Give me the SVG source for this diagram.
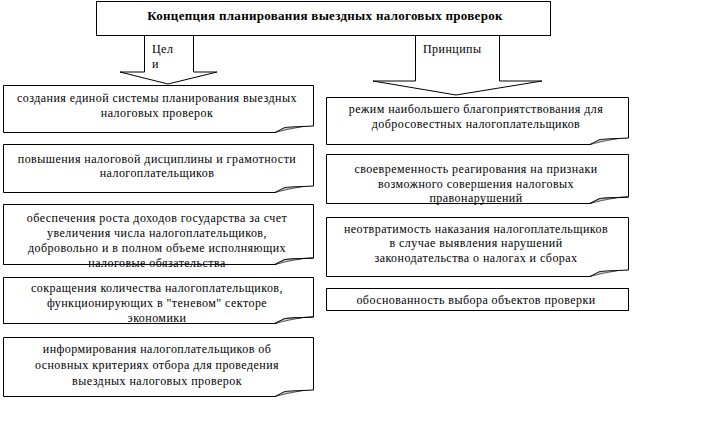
<svg xmlns="http://www.w3.org/2000/svg" width="722" height="434" viewBox="0 0 722 434">
<style>
.bx{fill:#fff;stroke:#000;stroke-width:1}
.bo{fill:none;stroke:#000;stroke-width:1}
.fold{fill:#c8c8c8;stroke:#000;stroke-width:0.6}
.t{font-family:'Liberation Serif','DejaVu Serif',serif;font-size:12px;letter-spacing:0.45px;fill:#000;text-anchor:middle}
.tl{font-family:'Liberation Serif','DejaVu Serif',serif;font-size:12px;letter-spacing:0.45px;fill:#000}
.h{font-family:'Liberation Serif','DejaVu Serif',serif;font-size:13px;letter-spacing:0.3px;font-weight:bold;fill:#000;text-anchor:middle}
.ar{fill:#fff;stroke:#000;stroke-width:1}
</style>
<rect width="722" height="434" fill="#fff"/>
<g id="title">
<rect class="bx" x="96.5" y="1.5" width="454" height="34"/>
<text class="h" x="325" y="20">Концепция планирования выездных налоговых проверок</text>
</g>
<g id="connectors">
<polygon class="ar" points="144.5,35.5 193.5,35.5 193.5,72 217,72 168,84 120,72 144.5,72"/>
<text class="tl" x="152" y="53">Цел</text>
<text class="tl" x="152" y="68">и</text>
<polygon class="ar" points="415.5,35.5 499.5,35.5 499.5,81 542,81 456,95 373,81 415.5,81"/>
<text class="tl" x="423" y="53">Принципы</text>
</g>
<g id="goal1">
<path class="bx" d="M3.5 85.5 H313.5 V126 L303 126.5 L285 127.5 L275 132.5 H3.5 Z"/>
<polygon class="fold" points="275,132.5 285,127.5 303,126.5 287,129.5"/>
<text class="t" x="157" y="102">создания единой системы планирования выездных</text>
<text class="t" x="157" y="117">налоговых проверок</text>
</g>
<g id="goal2">
<path class="bx" d="M3.5 144.5 H313.5 V186 L303 186.5 L285 187.5 L275 192.5 H3.5 Z"/>
<polygon class="fold" points="275,192.5 285,187.5 303,186.5 287,189.5"/>
<text class="t" x="157" y="163">повышения налоговой дисциплины и грамотности</text>
<text class="t" x="157" y="177">налогоплательщиков</text>
</g>
<g id="goal3">
<path class="bx" d="M3.5 204.5 H313.5 V258 L303 258.5 L285 259.5 L275 264.5 H3.5 Z"/>
<text class="t" x="157" y="222">обеспечения роста доходов государства за счет</text>
<text class="t" x="157" y="237">увеличения числа налогоплательщиков,</text>
<text class="t" x="157" y="252">добровольно и в полном объеме исполняющих</text>
<text class="t" x="157" y="267">налоговые обязательства</text>
<path class="bo" d="M313.5 257 V258 L303 258.5 L285 259.5 L275 264.5 H3.5"/>
<polygon class="fold" points="275,264.5 285,259.5 303,258.5 287,261.5"/>
</g>
<g id="goal4">
<path class="bx" d="M3.5 277.5 H313.5 V317 L303 317.5 L285 318.5 L275 323.5 H3.5 Z"/>
<text class="t" x="157" y="292">сокращения количества налогоплательщиков,</text>
<text class="t" x="157" y="307">функционирующих в "теневом" секторе</text>
<text class="t" x="157" y="322">экономики</text>
<path class="bo" d="M313.5 316 V317 L303 317.5 L285 318.5 L275 323.5 H3.5"/>
<polygon class="fold" points="275,323.5 285,318.5 303,317.5 287,320.5"/>
</g>
<g id="goal5">
<path class="bx" d="M3.5 337.5 H313.5 V390 L303 390.5 L285 391.5 L275 396.5 H3.5 Z"/>
<polygon class="fold" points="275,396.5 285,391.5 303,390.5 287,393.5"/>
<text class="t" x="157" y="353">информирования налогоплательщиков об</text>
<text class="t" x="157" y="369">основных критериях отбора для проведения</text>
<text class="t" x="157" y="385">выездных налоговых проверок</text>
</g>
<g id="principle1">
<path class="bx" d="M326.5 97.5 H628.5 V138 L618 138.5 L600 139.5 L590 144.5 H326.5 Z"/>
<polygon class="fold" points="590,144.5 600,139.5 618,138.5 602,141.5"/>
<text class="t" x="476" y="113">режим наибольшего благоприятствования для</text>
<text class="t" x="476" y="128">добросовестных налогоплательщиков</text>
</g>
<g id="principle2">
<path class="bx" d="M326.5 154.5 H628.5 V197 L618 197.5 L600 198.5 L590 203.5 H326.5 Z"/>
<text class="t" x="476" y="173">своевременность реагирования на признаки</text>
<text class="t" x="476" y="188">возможного совершения налоговых</text>
<text class="t" x="476" y="202">правонарушений</text>
<path class="bo" d="M628.5 196 V197 L618 197.5 L600 198.5 L590 203.5 H326.5"/>
<polygon class="fold" points="590,203.5 600,198.5 618,197.5 602,200.5"/>
</g>
<g id="principle3">
<path class="bx" d="M326.5 217.5 H628.5 V270 L618 270.5 L600 271.5 L590 276.5 H326.5 Z"/>
<polygon class="fold" points="590,276.5 600,271.5 618,270.5 602,273.5"/>
<text class="t" x="476" y="233">неотвратимость наказания налогоплательщиков</text>
<text class="t" x="476" y="247">в случае выявления нарушений</text>
<text class="t" x="476" y="262">законодательства о налогах и сборах</text>
</g>
<g id="principle4">
<rect class="bx" x="326.5" y="288.5" width="302" height="22"/>
<text class="t" x="476" y="304">обоснованность выбора объектов проверки</text>
</g>
</svg>
